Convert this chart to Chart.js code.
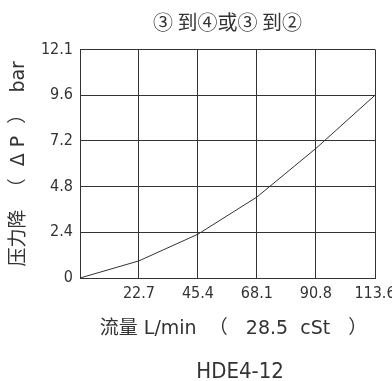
<!DOCTYPE html>
<html>
<head>
<meta charset="utf-8">
<script src="https://cdn.jsdelivr.net/npm/chart.js"></script>
<style>
  html, body { margin: 0; padding: 0; background: #fff; }
</style>
</head>
<body>
<canvas id="myChart" width="392" height="381"></canvas>
<script>
var flow = [0, 22.7, 45.4, 68.1, 90.8, 113.6];
var pressure = [0, 0.9, 2.3, 4.25, 6.8, 9.6];
var xTicks = [0, 22.7, 45.4, 68.1, 90.8, 113.6];
var xTickLabels = ['', '22.7', '45.4', '68.1', '90.8', '113.6'];
var yTicks = [0, 2.4, 4.8, 7.2, 9.6, 12];
var yTickLabels = ['0', '2.4', '4.8', '7.2', '9.6', '12.1'];

var narrow = "'Liberation Sans Narrow', 'DejaVu Sans Condensed', sans-serif";
var wide = "'DejaVu Sans', 'Noto Sans CJK SC', sans-serif";
var cjk = "'Noto Sans CJK SC', sans-serif";
var ink = '#333';

var ctx = document.getElementById('myChart').getContext('2d');
var myChart = new Chart(ctx, {
    type: 'line',
    data: {
        datasets: [{
            data: flow.map(function (x, i) { return { x: x, y: pressure[i] }; }),
            borderColor: ink,
            borderWidth: 1,
            pointRadius: 0,
            tension: 0,
            fill: false
        }]
    },
    options: {
        responsive: false,
        animation: false,
        layout: { padding: { left: 4, right: 0, top: 0, bottom: 0 } },
        plugins: {
            legend: { display: false },
            tooltip: { enabled: false },
            title: {
                display: true,
                fullSize: false,
                text: '③ 到④或③ 到②',
                color: ink,
                font: { family: cjk, size: 20, weight: 'normal', lineHeight: 1 },
                padding: { top: 12, bottom: 17.5 }
            },
            subtitle: {
                display: true,
                fullSize: false,
                position: 'bottom',
                text: '    HDE4-12',
                color: ink,
                font: { family: narrow, size: 22, weight: 'normal', lineHeight: 1 },
                padding: { top: 22, bottom: -2 }
            }
        },
        scales: {
            x: {
                type: 'linear',
                min: 0,
                max: 113.6,
                afterBuildTicks: function (axis) {
                    axis.ticks = xTicks.map(function (v) { return { value: v }; });
                },
                afterFit: function (scale) {
                    scale.paddingRight = 17;
                    scale.paddingLeft = 0;
                },
                ticks: {
                    color: ink,
                    font: { family: narrow, size: 16, lineHeight: 1 },
                    padding: 8,
                    maxRotation: 0,
                    autoSkip: false,
                    callback: function (v, i) { return xTickLabels[i]; }
                },
                grid: { color: ink, lineWidth: 1, drawTicks: false },
                border: { color: ink },
                title: {
                    display: true,
                    text: '  流量 L/min  （   28.5  cSt   ）',
                    color: ink,
                    font: { family: wide, size: 19, lineHeight: 1 },
                    padding: { top: 10, bottom: 0 }
                }
            },
            y: {
                min: 0,
                max: 12,
                afterBuildTicks: function (axis) {
                    axis.ticks = yTicks.map(function (v) { return { value: v }; });
                },
                afterFit: function (scale) {
                    scale.width = 76;
                },
                ticks: {
                    color: ink,
                    font: { family: narrow, size: 16, lineHeight: 1 },
                    padding: 7,
                    autoSkip: false,
                    callback: function (v, i) { return yTickLabels[i]; }
                },
                grid: { color: ink, lineWidth: 1, drawTicks: false },
                border: { color: ink },
                title: {
                    display: true,
                    text: '压力降  （  Δ P  ）  bar',
                    color: ink,
                    font: { family: wide, size: 19, lineHeight: 1 },
                    padding: { top: 6, bottom: 0 }
                }
            }
        }
    }
});
</script>
</body>
</html>
